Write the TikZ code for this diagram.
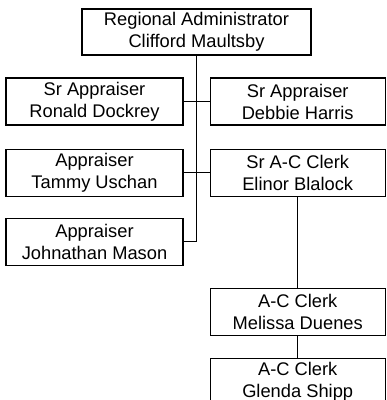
\documentclass[tikz,border=0pt]{standalone}
\usepackage{fontspec}
\setmainfont{Liberation Sans}
\usetikzlibrary{positioning}
\tikzset{
  every picture/.style={font={\fontsize{18.3}{22}\selectfont}}}

\begin{document}
\begin{tikzpicture}[x=1pt, y=-1pt, node distance=23pt and 26pt,
    post/.style={draw, line width=1.2pt, align=center, inner sep=0pt,
      minimum width=177pt, minimum height=47pt},
    side/.style={post, minimum width=175pt},
    head/.style={post, line width=1.5pt, minimum width=229pt, minimum height=46pt},
    link/.style={line width=1pt}]
  \useasboundingbox (0,0) rectangle (387,400);
  \clip (0,0) rectangle (387,400);

  \node[head] (RA) at (196.5,32) {Regional Administrator\\Clifford Maultsby};

  \node[post] (SA) at (94.5,101.5) {Sr Appraiser\\Ronald Dockrey};
  \node[side] (SB) [right=of SA] {Sr Appraiser\\Debbie Harris};

  \node[post] (TA) [below=of SA] {Appraiser\\Tammy Uschan};
  \node[side] (CA) [below=of SB] {Sr A-C Clerk\\Elinor Blalock};

  \node[post] (TB) [below=21pt of TA] {Appraiser\\Johnathan Mason};

  \node[side] (CB) [below=91pt of CA] {A-C Clerk\\Melissa Duenes};
  \node[side] (CC) [below=22pt of CB] {A-C Clerk\\Glenda Shipp};

  \draw[link] (RA.south) |- (TB.east);
  \draw[link] (SA) -- (SB);
  \draw[link] (TA) -- (CA);
  \draw[link] (CA) -- (CB);
  \draw[link] (CB) -- (CC);
\end{tikzpicture}
\end{document}
